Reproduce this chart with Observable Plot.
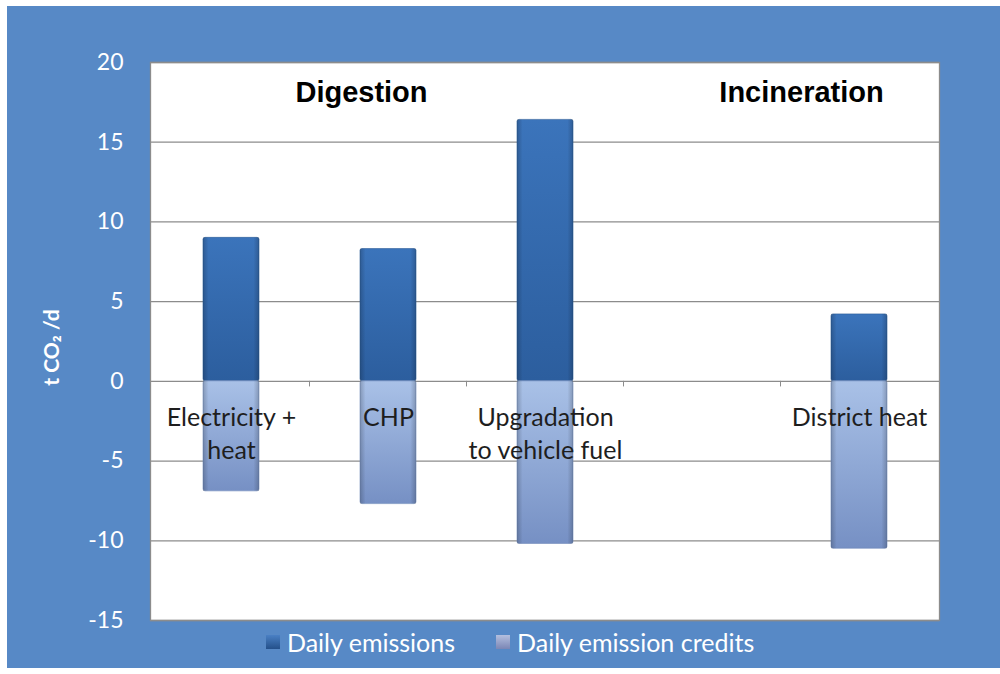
<!DOCTYPE html>
<html>
<head>
<meta charset="utf-8">
<script src="https://cdn.jsdelivr.net/npm/d3@7"></script>
<script src="https://cdn.jsdelivr.net/npm/@observablehq/plot@0.6"></script>
<style>
  html, body { margin: 0; padding: 0; background: #ffffff; }
  #wrap { position: absolute; left: 7px; top: 6px; width: 993px; height: 662px; background: #5789c6; overflow: hidden; }
  #legend { position: absolute; left: 259px; top: 622px; height: 28px; display: flex; align-items: center; font-family: Lato, "Open Sans", sans-serif; font-size: 25px; color: #ffffff; white-space: nowrap; }
  #legend .item { display: flex; align-items: center; margin-right: 41px; }
  #legend .sw { width: 14px; height: 14px; margin-right: 7px; box-sizing: border-box; }
</style>
</head>
<body>
<div id="wrap">
  <div id="chart"></div>
  <div id="legend"></div>
</div>
<script>
// ---- data ----
const categories = ["Electricity +\nheat", "CHP", "Upgradation\nto vehicle fuel", " ", "District heat"];
const dailyEmissions = [9.0, 8.3, 16.4, null, 4.2];
const dailyCredits = [-6.9, -7.7, -10.2, null, -10.5];
const yTicks = [-15, -10, -5, 0, 5, 10, 15, 20];
const seriesNames = ["Daily emissions", "Daily emission credits"];
const yLabel = "t CO\u2082 /d";

const emissionRows = categories.map((c, i) => ({cat: c, v: dailyEmissions[i]})).filter(d => d.v != null);
const creditRows = categories.map((c, i) => ({cat: c, v: dailyCredits[i]})).filter(d => d.v != null);

const titleStyle = {y: 18.1, fontSize: 29, fontWeight: "bold", fill: "#000000", fontFamily: "'Liberation Sans', Arial, sans-serif"};

const chart = Plot.plot({
  width: 993,
  height: 630,
  marginLeft: 143,
  marginRight: 61,
  marginTop: 56,
  marginBottom: 16,
  style: {fontFamily: "Lato, 'Open Sans', sans-serif", fontSize: "21px", background: "transparent", overflow: "visible"},
  x: {domain: categories, paddingInner: 0.645, paddingOuter: 0.3225, axis: null},
  y: {domain: [-15, 20], axis: null},
  marks: [
    Plot.frame({fill: "#ffffff", stroke: "#8c8c8c", strokeWidth: 1.3}),
    Plot.ruleY(yTicks, {stroke: "#8c8c8c", strokeWidth: 1.3}),
    Plot.axisY(yTicks, {tickSize: 0, tickPadding: 27, fill: "#ffffff", fontSize: 23, label: null, tickFormat: d => String(d)}),
    Plot.ruleX(categories.slice(1), {x: d => d, y1: 0, y2: -0.35, dx: -79, stroke: "#8c8c8c", strokeWidth: 1}),
    Plot.barY(emissionRows, {x: "cat", y: "v", fill: "url(#gDark)", stroke: "#2a5a96", strokeWidth: 0.6, rx: 2}),
    Plot.barY(emissionRows, {x: "cat", y: "v", fill: "url(#gEdge)"}),
    Plot.barY(creditRows, {x: "cat", y: "v", fill: "url(#gLight)", stroke: "#6f89bb", strokeWidth: 0.6, rx: 2}),
    Plot.barY(creditRows, {x: "cat", y: "v", fill: "url(#gEdge)"}),
    Plot.text(categories, {x: d => d, y: 0, text: d => d, lineAnchor: "top", dy: 21, fontSize: 25, fill: "#1e1e1e", lineHeight: 1.32}),
    Plot.text(["Digestion"], {...titleStyle, x: () => "CHP", dx: -27}),
    Plot.text(["Incineration"], {...titleStyle, x: () => "District heat", dx: -58}),
    Plot.text([yLabel], {frameAnchor: "left", textAnchor: "middle", dx: -98, dy: 6, rotate: -90, fontWeight: "bold", fontSize: 21, fill: "#ffffff"})
  ]
});

const ns = "http://www.w3.org/2000/svg";
const defs = document.createElementNS(ns, "defs");
defs.innerHTML = `
  <linearGradient id="gDark" x1="0" y1="0" x2="0" y2="1">
    <stop offset="0" stop-color="#3b74bb"/>
    <stop offset="1" stop-color="#2c5e9e"/>
  </linearGradient>
  <linearGradient id="gLight" x1="0" y1="0" x2="0" y2="1">
    <stop offset="0" stop-color="#a9c1e7"/>
    <stop offset="1" stop-color="#7690c4"/>
  </linearGradient>
  <linearGradient id="gEdge" x1="0" y1="0" x2="1" y2="0">
    <stop offset="0" stop-color="#000" stop-opacity="0.2"/>
    <stop offset="0.1" stop-color="#000" stop-opacity="0"/>
    <stop offset="0.9" stop-color="#000" stop-opacity="0"/>
    <stop offset="1" stop-color="#000" stop-opacity="0.2"/>
  </linearGradient>`;
chart.insertBefore(defs, chart.firstChild);
document.getElementById("chart").appendChild(chart);

// legend
const swatches = ["linear-gradient(#4a80c4, #24508a)", "linear-gradient(#b3bfdf, #7b86b5)"];
const legend = document.getElementById("legend");
seriesNames.forEach((name, i) => {
  const item = document.createElement("div");
  item.className = "item";
  const sw = document.createElement("span");
  sw.className = "sw";
  sw.style.background = swatches[i];
  item.appendChild(sw);
  const t = document.createElement("span");
  t.textContent = name;
  item.appendChild(t);
  legend.appendChild(item);
});
</script>
</body>
</html>
